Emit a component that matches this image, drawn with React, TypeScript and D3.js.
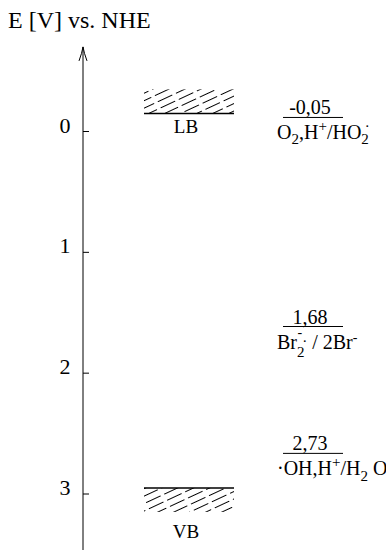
import React from "react";
import * as d3 from "d3";

const axisTicks = [0, 1, 2, 3];
const bandNames = ["LB", "VB"];
const bandValues = [-0.15, 2.95];
const coupleValues = [-0.05, 1.68, 2.73];
const coupleValueLabels = ["-0,05", "1,68", "2,73"];
const titleText = "E [V] vs. NHE";

const W = 386;
const H = 550;
const FONT = "'Liberation Serif', 'Times New Roman', serif";

export default function App() {
  const y = d3.scaleLinear().domain([0, 3]).range([131.5, 494]);
  const axisX = 83;
  const bandX0 = 144;
  const bandX1 = 234;
  const hatchH = 24;
  const lineX0 = 283;
  const lineX1 = 343;
  const labelX = 277;

  const top = y(-0.7);
  const bottom = y(3.6);
  const hatchGap = 16 * Math.sin((25 * Math.PI) / 180);

  const coupleLabel = (i: number) => {
    if (i === 0)
      return (
        <>
          <tspan>O</tspan>
          <tspan dy={5} fontSize={15}>2</tspan>
          <tspan dy={-5}>,H</tspan>
          <tspan dy={-8} fontSize={15}>+</tspan>
          <tspan dy={8}>/HO</tspan>
          <tspan dy={5} fontSize={15}>2</tspan>
          <tspan dx={-4} dy={-13} fontSize={15}>·</tspan>
        </>
      );
    if (i === 1)
      return (
        <>
          <tspan>Br</tspan>
          <tspan dy={8} fontSize={15}>2</tspan>
          <tspan dx={-7} dy={-20} fontSize={14}>-</tspan>
          <tspan dx={0} dy={9} fontSize={15}>·</tspan>
          <tspan dy={3}> / 2Br</tspan>
          <tspan dy={-7} fontSize={14}>-</tspan>
        </>
      );
    return (
      <>
        <tspan>·OH,H</tspan>
        <tspan dy={-8} fontSize={15}>+</tspan>
        <tspan dy={8}>/H</tspan>
        <tspan dy={6} fontSize={15}>2</tspan>
        <tspan dy={-6}> O</tspan>
      </>
    );
  };

  return (
    <svg
      width={W}
      height={H}
      style={{ position: "absolute", left: 0, top: 0, background: "#fff" }}
      fontFamily={FONT}
    >
      <defs>
        <pattern
          id="hatch"
          patternUnits="userSpaceOnUse"
          width={20}
          height={hatchGap}
          patternTransform="rotate(-25)"
        >
          <line
            x1={0}
            y1={hatchGap / 2}
            x2={20}
            y2={hatchGap / 2}
            stroke="#000"
            strokeWidth={1}
            strokeDasharray="16,4"
          />
        </pattern>
      </defs>
      <rect x={0} y={0} width={W} height={H} fill="#fff" />

      <text x={8} y={28} fontSize={24}>{titleText}</text>

      {/* axis */}
      <line x1={axisX} x2={axisX} y1={top} y2={bottom} stroke="#000" strokeWidth={1} />
      <path
        d={`M${axisX - 4},${top + 14} Q${axisX - 1},${top + 6} ${axisX},${top} Q${axisX + 1},${top + 6} ${axisX + 4},${top + 14}`}
        fill="none"
        stroke="#000"
        strokeWidth={1}
      />
      {axisTicks.map((t) => (
        <g key={t}>
          <line x1={axisX} x2={axisX + 6} y1={y(t)} y2={y(t)} stroke="#000" strokeWidth={1} />
          <text x={65} y={y(t) + 1} fontSize={22} textAnchor="middle">
            {t}
          </text>
        </g>
      ))}

      {/* bands */}
      {bandValues.map((v, i) => {
        const yy = y(v);
        const isTop = i === 0;
        const hy = isTop ? yy - hatchH : yy;
        return (
          <g key={bandNames[i]}>
            <rect x={bandX0} y={hy} width={bandX1 - bandX0} height={hatchH} fill="url(#hatch)" />
            <line x1={bandX0} x2={bandX1} y1={yy} y2={yy} stroke="#000" strokeWidth={1.5} />
            <text
              x={(bandX0 + bandX1) / 2 - 3}
              y={isTop ? yy + 20 : yy + hatchH + 26}
              fontSize={19}
              textAnchor="middle"
            >
              {bandNames[i]}
            </text>
          </g>
        );
      })}

      {/* redox couples */}
      {coupleValues.map((v, i) => {
        const yy = y(v) - 8;
        return (
          <g key={i}>
            <text x={(lineX0 + lineX1) / 2 - 3} y={yy - 3} fontSize={20} textAnchor="middle">
              {coupleValueLabels[i]}
            </text>
            <line x1={lineX0} x2={lineX1} y1={yy} y2={yy} stroke="#000" strokeWidth={1} />
            <text x={labelX} y={yy + 22} fontSize={20}>
              {coupleLabel(i)}
            </text>
          </g>
        );
      })}
    </svg>
  );
}
